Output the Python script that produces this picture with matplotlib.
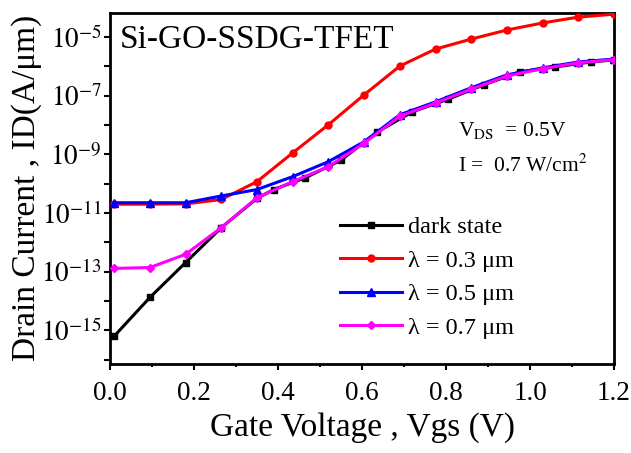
import numpy as np
import matplotlib
matplotlib.use("Agg")
import matplotlib.pyplot as plt
from matplotlib.ticker import FixedLocator, FuncFormatter, MultipleLocator

plt.rcParams['font.family'] = ['Liberation Serif', 'DejaVu Serif']
plt.rcParams['mathtext.fontset'] = 'stix'

# ---- data (log10 of drain current, A/um) ----
vgs = [0.01, 0.095, 0.18, 0.265, 0.35, 0.435, 0.52, 0.605, 0.69, 0.775,
       0.86, 0.945, 1.03, 1.115, 1.2]
vgs_dark = [0.01, 0.095, 0.18, 0.265, 0.35, 0.39, 0.465, 0.55, 0.635, 0.72,
            0.805, 0.89, 0.975, 1.06, 1.145, 1.2]
log_dark = [-15.2, -13.88, -12.69, -11.5, -10.5, -10.2, -9.8, -9.2, -8.25,
            -7.55, -7.12, -6.63, -6.19, -6.02, -5.85, -5.78]
log_l03 = [-10.70, -10.70, -10.69, -10.54, -9.93, -8.95, -7.99, -6.97, -5.99,
           -5.41, -5.07, -4.76, -4.52, -4.32, -4.22]
log_l05 = [-10.65, -10.65, -10.65, -10.42, -10.2, -9.76, -9.25, -8.57, -7.65,
           -7.21, -6.73, -6.29, -6.05, -5.85, -5.75]
log_l07 = [-12.89, -12.86, -12.41, -11.5, -10.48, -9.93, -9.42, -8.62, -7.7,
           -7.25, -6.78, -6.33, -6.08, -5.88, -5.77]
labels = ['dark state', 'λ = 0.3 μm', 'λ = 0.5 μm', 'λ = 0.7 μm']

fig = plt.figure(figsize=(6.31, 4.53), dpi=100)
ax = fig.add_axes([110/631, 1-364/453, (614-110)/631, (364-13)/453])

p = lambda a: 10.0 ** np.array(a)
ax.plot(vgs_dark, p(log_dark), '-s', color='black', lw=2.2, ms=4.5, label=labels[0], zorder=2)
ax.plot(vgs, p(log_l03), '-o', color='#ff0000', lw=2.2, ms=5, label=labels[1], zorder=3)
ax.plot(vgs, p(log_l05), '-^', color='#0000ff', lw=2.2, ms=6, label=labels[2], zorder=4)
ax.plot(vgs, p(log_l07), '-D', color='#ff00ff', lw=2.2, ms=4.5, label=labels[3], zorder=5)

ax.set_yscale('log')
ax.set_xlim(0, 1.2)
ax.set_ylim(10**-16.15, 10**-4.18)

ax.xaxis.set_major_locator(MultipleLocator(0.2))
ax.xaxis.set_minor_locator(MultipleLocator(0.1))
ax.xaxis.set_major_formatter(FuncFormatter(lambda v, p_: f"{v:.1f}"))

ax.yaxis.set_major_locator(FixedLocator([10.0**e for e in range(-16, -3)]))
ax.yaxis.set_minor_locator(FixedLocator([]))
def yfmt(v, pos):
    e = int(round(np.log10(v)))
    return r'$10^{%d}$' % e if e % 2 != 0 else ''
ax.yaxis.set_major_formatter(FuncFormatter(yfmt))

ax.tick_params(axis='both', which='major', direction='out', length=4, width=1.5,
               labelsize=19.5, top=False, right=False)
ax.tick_params(axis='x', which='major', pad=8)
ax.tick_params(axis='y', which='major', pad=2)
ax.tick_params(axis='x', which='minor', direction='out', length=2.5, width=1.5)
for s in ax.spines.values():
    s.set_linewidth(2)

ax.set_xlabel('Gate Voltage , Vgs (V)', fontsize=24, labelpad=5)
ax.set_ylabel('Drain Current , ID(A/μm)', fontsize=24, va='center')
ax.yaxis.set_label_coords(-0.166, 0.503)

ax.text(0.02, 0.923, 'Si-GO-SSDG-TFET', transform=ax.transAxes, fontsize=24,
        va='center', ha='left')
ax.text(0.69, 0.664, r'V$_{\mathrm{DS}}$  = 0.5V', transform=ax.transAxes,
        fontsize=15.5, va='center', ha='left')
ax.text(0.69, 0.564, r'I =  0.7 W/cm$^{2}$', transform=ax.transAxes,
        fontsize=15.5, va='center', ha='left')

ax.legend(loc='upper left', bbox_to_anchor=(0.456, 0.421), frameon=False,
          fontsize=17.5, handlelength=2.55, handletextpad=0.25, labelspacing=0.47,
          borderpad=0, borderaxespad=0)

fig.savefig('out.png', dpi=100)
